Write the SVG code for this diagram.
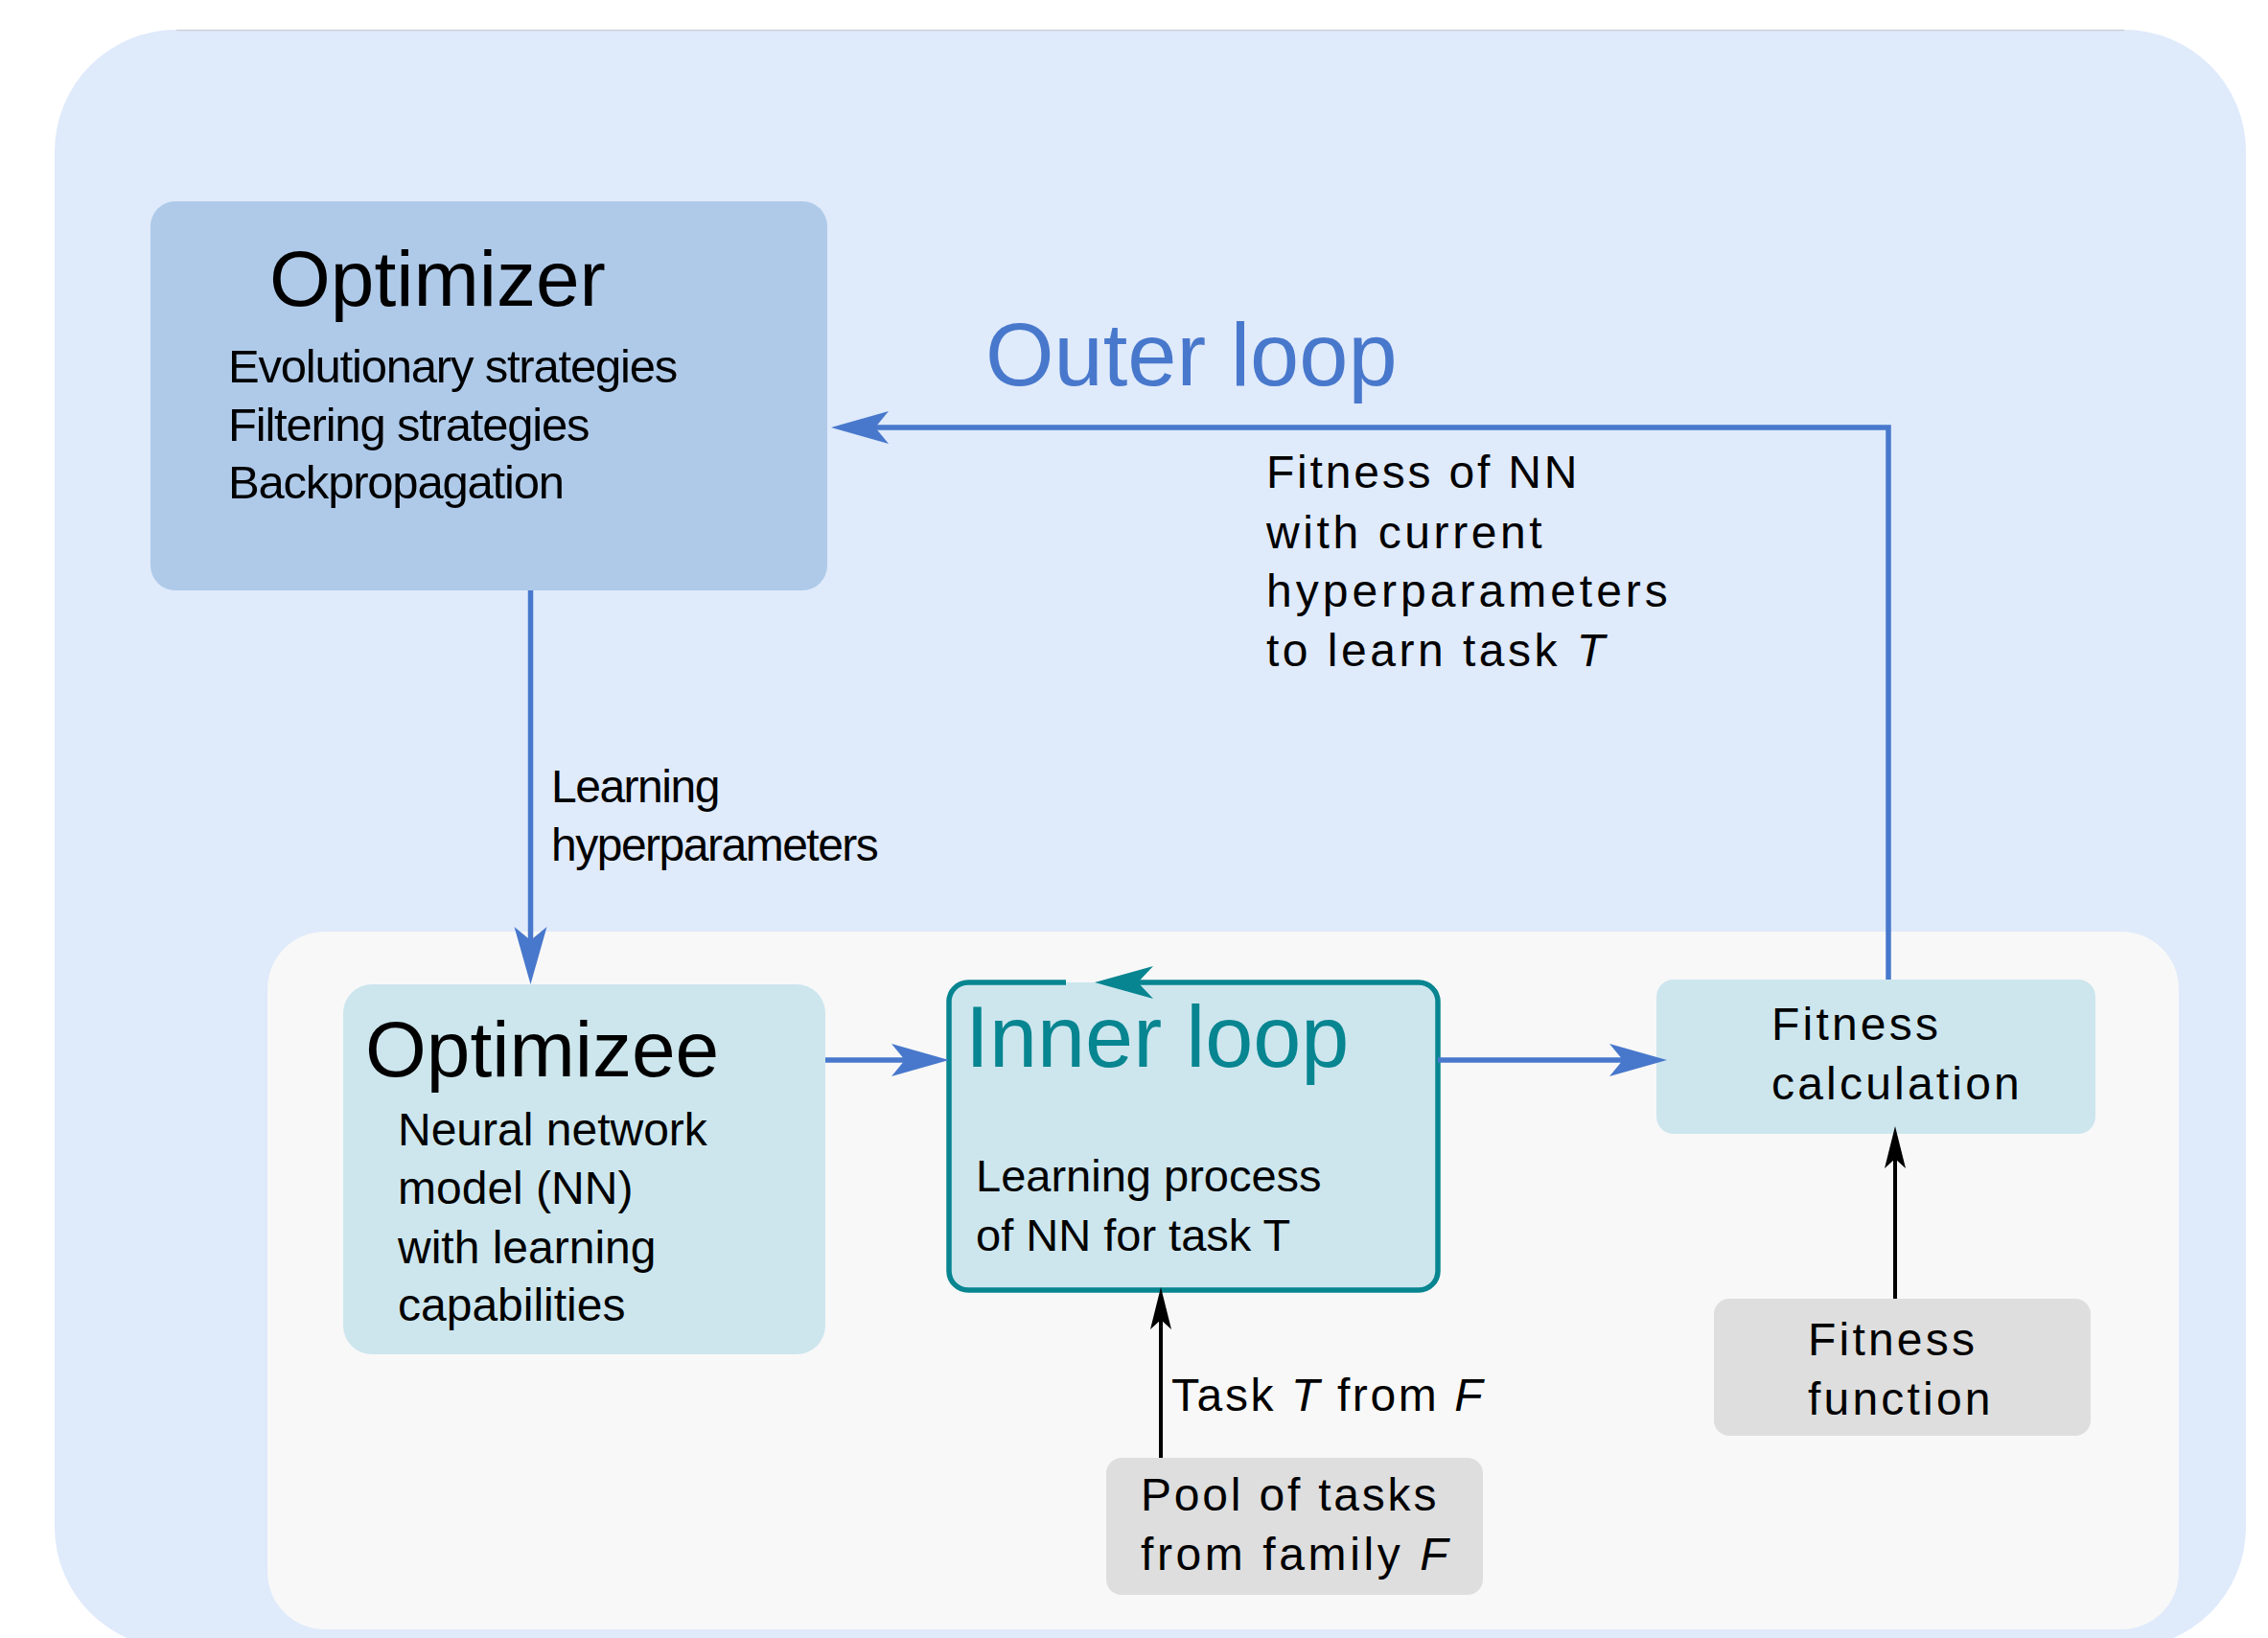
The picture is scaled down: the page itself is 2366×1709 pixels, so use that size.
<svg xmlns="http://www.w3.org/2000/svg" width="2366" height="1709" viewBox="0 0 2366 1709">
  <style>
    text { font-family: "Liberation Sans", Arial, sans-serif; fill: #000; }
    .title { font-size: 82px; }
    .tight { font-size: 49px; letter-spacing: -1.2px; }
    .body { font-size: 48px; }
    .tracked { font-size: 48px; letter-spacing: 3.2px; }
    .it { font-style: italic; }
    .blue-line { fill: none; stroke: #4878cc; stroke-width: 5.5; }
    .black-line { fill: none; stroke: #000; stroke-width: 4; }
    .cyan { fill: #cde6ee; }
    .grey { fill: #dedede; }
  </style>
  <defs>
    <!-- notched arrowheads; the reference point sits at the notch -->
    <marker id="arrow-blue" viewBox="-16 -20 64 40" refX="0" refY="0" markerWidth="64" markerHeight="40" markerUnits="userSpaceOnUse" orient="auto">
      <path d="M -14,-17 L 46,0 L -14,17 L 0,0 Z" fill="#4878cc"/>
    </marker>
    <marker id="arrow-teal" viewBox="-18 -20 66 40" refX="0" refY="0" markerWidth="66" markerHeight="40" markerUnits="userSpaceOnUse" orient="auto">
      <path d="M -16,-17 L 45,0 L -16,17 L 0,0 Z" fill="#078590"/>
    </marker>
    <marker id="arrow-black" viewBox="-12 -14 50 28" refX="0" refY="0" markerWidth="50" markerHeight="28" markerUnits="userSpaceOnUse" orient="auto">
      <path d="M -10,-11 L 34,0 L -10,11 L 0,0 Z" fill="#000"/>
    </marker>
  </defs>

  <!-- outer loop region -->
  <g id="outer-region">
    <rect x="57" y="31" width="2286" height="1689" rx="127" ry="127" fill="#dfeafb"/>
    <line x1="184" y1="31.5" x2="2216" y2="31.5" stroke="#cdd2da" stroke-width="1.5"/>
    <text x="1028" y="402" font-size="92" style="fill:#4878cc">Outer loop</text>
  </g>

  <!-- inner loop region -->
  <g id="inner-region">
    <rect x="279" y="972" width="1994" height="728" rx="60" ry="60" fill="#f8f8f8"/>
  </g>

  <g id="optimizer">
    <rect x="157" y="210" width="706" height="406" rx="26" ry="26" fill="#afcae9"/>
    <text class="title" x="281" y="319">Optimizer</text>
    <text class="tight" x="238" y="399">Evolutionary strategies</text>
    <text class="tight" x="238" y="460">Filtering strategies</text>
    <text class="tight" x="238" y="520">Backpropagation</text>
  </g>

  <g id="optimizee">
    <rect class="cyan" x="358" y="1027" width="503" height="386" rx="30" ry="30"/>
    <text class="title" x="381" y="1123">Optimizee</text>
    <text class="body" x="415" y="1195">Neural network</text>
    <text class="body" x="415" y="1256">model (NN)</text>
    <text class="body" x="415" y="1318">with learning</text>
    <text class="body" x="415" y="1378">capabilities</text>
  </g>

  <g id="inner-loop">
    <rect class="cyan" x="990" y="1025" width="510" height="321" rx="20" ry="20"/>
    <path d="M 1112,1025 H 1010 A 20 20 0 0 0 990,1045 V 1326 A 20 20 0 0 0 1010,1346 H 1480 A 20 20 0 0 0 1500,1326 V 1045 A 20 20 0 0 0 1480,1025 H 1187" fill="none" stroke="#078590" stroke-width="5.5" marker-end="url(#arrow-teal)"/>
    <text x="1007" y="1113" font-size="90" style="fill:#078590">Inner loop</text>
    <text x="1018" y="1243" font-size="47">Learning process</text>
    <text x="1018" y="1305" font-size="47">of NN for task T</text>
  </g>

  <g id="fitness-calculation">
    <rect class="cyan" x="1728" y="1022" width="458" height="161" rx="18" ry="18"/>
    <text class="tracked" x="1848" y="1085">Fitness</text>
    <text class="tracked" x="1848" y="1147">calculation</text>
  </g>

  <g id="fitness-function">
    <rect class="grey" x="1788" y="1355" width="393" height="143" rx="16" ry="16"/>
    <text class="tracked" x="1886" y="1414">Fitness</text>
    <text class="tracked" x="1886" y="1476">function</text>
  </g>

  <g id="task-pool">
    <rect class="grey" x="1154" y="1521" width="393" height="143" rx="16" ry="16"/>
    <text class="tracked" x="1190" y="1576" style="letter-spacing:2.8px">Pool of tasks</text>
    <text class="tracked" x="1190" y="1638" style="letter-spacing:3.6px">from family <tspan class="it">F</tspan></text>
  </g>

  <g id="connectors">
    <!-- optimizer hands hyperparameters down to the optimizee -->
    <line class="blue-line" x1="553.5" y1="616" x2="553.5" y2="981" marker-end="url(#arrow-blue)"/>
    <text class="tight" x="575" y="837" style="font-size:48px;letter-spacing:-1.5px">Learning</text>
    <text class="tight" x="575" y="898" style="font-size:48px;letter-spacing:-1.5px">hyperparameters</text>

    <!-- fitness fed back to the optimizer -->
    <path class="blue-line" d="M 1970,1022 V 446 H 913" marker-end="url(#arrow-blue)"/>
    <text class="tracked" x="1321" y="509" style="letter-spacing:2.8px">Fitness of NN</text>
    <text class="tracked" x="1321" y="572" style="letter-spacing:3.6px">with current</text>
    <text class="tracked" x="1321" y="633" style="letter-spacing:4px">hyperparameters</text>
    <text class="tracked" x="1321" y="695" style="letter-spacing:3.5px">to learn task <tspan class="it">T</tspan></text>

    <line class="blue-line" x1="861" y1="1106" x2="944" y2="1106" marker-end="url(#arrow-blue)"/>
    <line class="blue-line" x1="1500" y1="1106" x2="1693" y2="1106" marker-end="url(#arrow-blue)"/>

    <!-- task sampling and fitness function inputs -->
    <line class="black-line" x1="1211" y1="1521" x2="1211" y2="1377" marker-end="url(#arrow-black)"/>
    <text class="tracked" x="1222" y="1472" style="letter-spacing:2.6px">Task <tspan class="it">T</tspan> from <tspan class="it">F</tspan></text>
    <line class="black-line" x1="1977" y1="1355" x2="1977" y2="1209" marker-end="url(#arrow-black)"/>
  </g>
</svg>
